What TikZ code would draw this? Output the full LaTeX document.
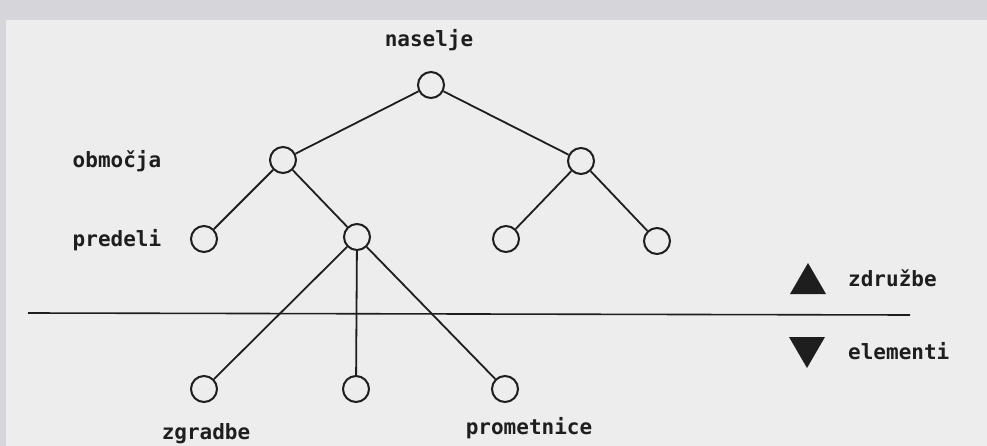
\documentclass[tikz,border=0pt]{standalone}
\usepackage{fontspec}
\setmonofont{DejaVu Sans Mono}
\definecolor{paper}{HTML}{EDEDED}
\definecolor{scanedge}{HTML}{D6D6DA}
\definecolor{ink}{HTML}{1E1E1E}
\begin{document}
\begin{tikzpicture}[x=1pt,y=-1pt,
  nd/.style={circle,draw=ink,line width=2pt,minimum size=26pt,inner sep=0pt},
  lbl/.style={font=\ttfamily\bfseries\fontsize{21}{24}\selectfont,text=ink,inner sep=0pt},
  edge/.style={draw=ink,line width=1.8pt}]
\fill[scanedge] (0,0) rectangle (987,446);
\fill[paper] (6,20) rectangle (987,446);
\useasboundingbox (0,0) rectangle (987,446);
% nodes
\node[nd] (r) at (431,85) {};
\node[nd] (a) at (283,160) {};
\node[nd] (b) at (581,161) {};
\node[nd] (a1) at (204,239) {};
\node[nd] (a2) at (357,237) {};
\node[nd] (b1) at (506,239) {};
\node[nd] (b2) at (657,241) {};
\node[nd] (e1) at (204,389) {};
\node[nd] (e2) at (356,389) {};
\node[nd] (e3) at (505,389) {};
% edges
\draw[edge] (r) -- (a);
\draw[edge] (r) -- (b);
\draw[edge] (a) -- (a1);
\draw[edge] (a) -- (a2);
\draw[edge] (b) -- (b1);
\draw[edge] (b) -- (b2);
\draw[edge] (a2) -- (e1);
\draw[edge] (a2) -- (e2);
\draw[edge] (a2) -- (e3);
% divider
\coordinate (dl) at (28,313);
\coordinate (dr) at (910,315);
\draw[edge,line width=1.6pt] (dl) -- (dr);
% labels
\node[lbl] (t0) at (429,40) {naselje};
\node[lbl] (t1) at (117,161) {območja};
\node[lbl] (t2) at (117,240) {predeli};
\node[lbl] (t3) at (206,434) {zgradbe};
\node[lbl] (t4) at (529,428) {prometnice};
\node[lbl,anchor=west] (t5) at (848,278) {združbe};
\node[lbl,anchor=west] (t6) at (848,351) {elementi};
% legend triangles
\fill[ink] (790,294) -- (826,294) -- (808,263) -- cycle;
\fill[ink] (789,337) -- (825,337) -- (807,368) -- cycle;
\end{tikzpicture}
\end{document}
